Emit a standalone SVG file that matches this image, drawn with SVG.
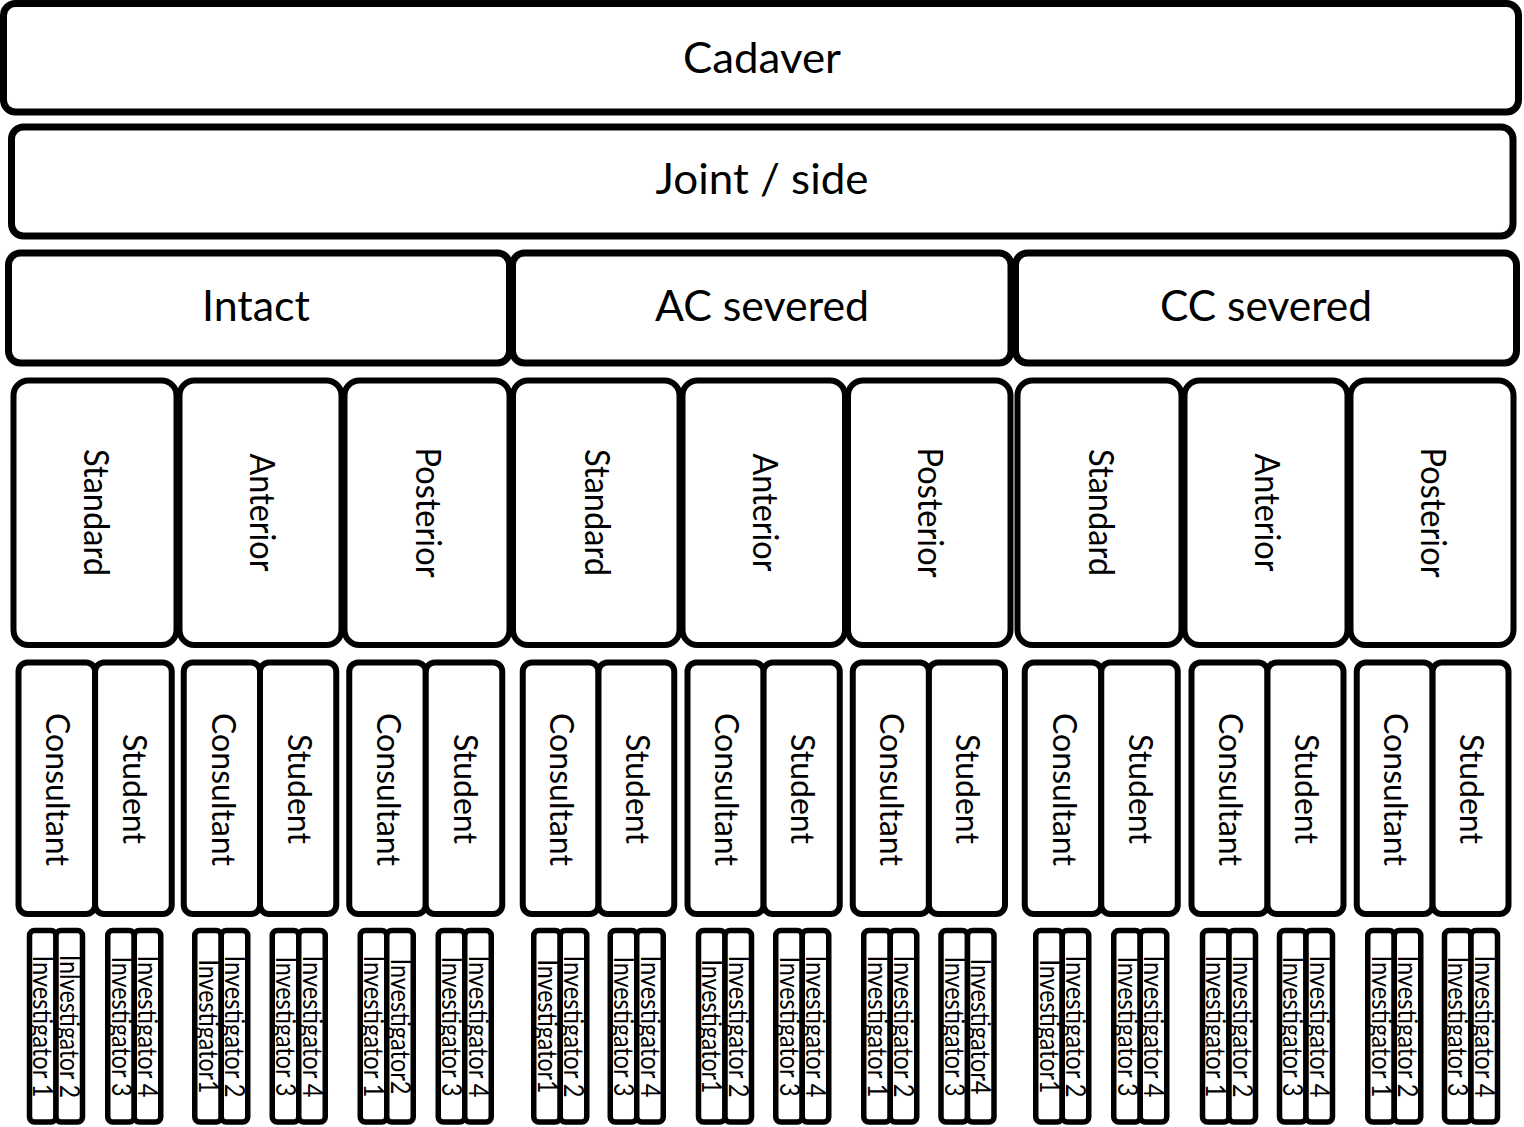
<svg xmlns="http://www.w3.org/2000/svg" width="1524" height="1127" viewBox="0 0 1524 1127">
<style>
.b{fill:#fff;stroke:#000}
.l1{stroke-width:7}
.l4{stroke-width:6}
.l5{stroke-width:6}
.l6{stroke-width:5.5}
.t{font-family:Lato,"Liberation Sans",sans-serif;fill:#000;text-anchor:middle}
.h{font-size:42px}
.v4{font-size:34px}
.v5{font-size:33px}
.v6{font-size:27px}
</style>
<rect width="1524" height="1127" fill="#fff"/>
<g id="connectors"></g>
<g id="cadaver"><rect class="b l1" x="3.5" y="3.5" width="1515" height="108.5" rx="12"/><text class="t h" x="762" y="73" textLength="158" lengthAdjust="spacingAndGlyphs">Cadaver</text></g>
<g id="joint"><rect class="b l1" x="11.5" y="127" width="1501.5" height="109" rx="12"/><text class="t h" x="762" y="194" textLength="213" lengthAdjust="spacingAndGlyphs">Joint / side</text></g>
<g id="intact"><rect class="b l1" x="8.5" y="253" width="501" height="110" rx="12"/><text class="t h" x="256" y="321" textLength="108" lengthAdjust="spacingAndGlyphs">Intact</text></g>
<g id="ac"><rect class="b l1" x="512.5" y="253" width="498.5" height="110" rx="12"/><text class="t h" x="762" y="320.5" textLength="214" lengthAdjust="spacingAndGlyphs">AC severed</text></g>
<g id="cc"><rect class="b l1" x="1015.5" y="253" width="501" height="110" rx="12"/><text class="t h" x="1266" y="320.5" textLength="212" lengthAdjust="spacingAndGlyphs">CC severed</text></g>

<g id="intact-standard"><rect class="b l4" x="13.5" y="380.5" width="163" height="264.5" rx="15"/><text class="t v4" transform="translate(84,512.5) rotate(90)" textLength="127" lengthAdjust="spacingAndGlyphs">Standard</text></g>
<g id="intact-anterior"><rect class="b l4" x="179.5" y="380.5" width="162" height="264.5" rx="15"/><text class="t v4" transform="translate(249.5,512.5) rotate(90)" textLength="118" lengthAdjust="spacingAndGlyphs">Anterior</text></g>
<g id="intact-posterior"><rect class="b l4" x="344.5" y="380.5" width="165" height="264.5" rx="15"/><text class="t v4" transform="translate(416,512.5) rotate(90)" textLength="130" lengthAdjust="spacingAndGlyphs">Posterior</text></g>
<g id="ac-standard"><rect class="b l4" x="513" y="380.5" width="166.5" height="264.5" rx="15"/><text class="t v4" transform="translate(585.25,512.5) rotate(90)" textLength="127" lengthAdjust="spacingAndGlyphs">Standard</text></g>
<g id="ac-anterior"><rect class="b l4" x="682.5" y="380.5" width="162.5" height="264.5" rx="15"/><text class="t v4" transform="translate(752.75,512.5) rotate(90)" textLength="118" lengthAdjust="spacingAndGlyphs">Anterior</text></g>
<g id="ac-posterior"><rect class="b l4" x="848" y="380.5" width="162.5" height="264.5" rx="15"/><text class="t v4" transform="translate(918.25,512.5) rotate(90)" textLength="130" lengthAdjust="spacingAndGlyphs">Posterior</text></g>
<g id="cc-standard"><rect class="b l4" x="1017.5" y="380.5" width="164" height="264.5" rx="15"/><text class="t v4" transform="translate(1088.5,512.5) rotate(90)" textLength="127" lengthAdjust="spacingAndGlyphs">Standard</text></g>
<g id="cc-anterior"><rect class="b l4" x="1184.5" y="380.5" width="163" height="264.5" rx="15"/><text class="t v4" transform="translate(1255,512.5) rotate(90)" textLength="118" lengthAdjust="spacingAndGlyphs">Anterior</text></g>
<g id="cc-posterior"><rect class="b l4" x="1350.5" y="380.5" width="163" height="264.5" rx="15"/><text class="t v4" transform="translate(1421,512.5) rotate(90)" textLength="130" lengthAdjust="spacingAndGlyphs">Posterior</text></g>

<g id="r5-1c"><rect class="b l5" x="18.5" y="662.5" width="76.6" height="251.5" rx="9"/><text class="t v5" transform="translate(46.3,789.5) rotate(90)" textLength="153" lengthAdjust="spacingAndGlyphs">Consultant</text></g>
<g id="r5-1s"><rect class="b l5" x="95.1" y="662.5" width="76.65" height="251.5" rx="9"/><text class="t v5" transform="translate(122.9,789) rotate(90)" textLength="110" lengthAdjust="spacingAndGlyphs">Student</text></g>
<g id="r5-2c"><rect class="b l5" x="183.75" y="662.5" width="76.25" height="251.5" rx="9"/><text class="t v5" transform="translate(211.6,789.5) rotate(90)" textLength="153" lengthAdjust="spacingAndGlyphs">Consultant</text></g>
<g id="r5-2s"><rect class="b l5" x="260" y="662.5" width="76.25" height="251.5" rx="9"/><text class="t v5" transform="translate(287.6,789) rotate(90)" textLength="110" lengthAdjust="spacingAndGlyphs">Student</text></g>
<g id="r5-3c"><rect class="b l5" x="349.25" y="662.5" width="76.5" height="251.5" rx="9"/><text class="t v5" transform="translate(377,789.5) rotate(90)" textLength="153" lengthAdjust="spacingAndGlyphs">Consultant</text></g>
<g id="r5-3s"><rect class="b l5" x="425.75" y="662.5" width="76.5" height="251.5" rx="9"/><text class="t v5" transform="translate(453.5,789) rotate(90)" textLength="110" lengthAdjust="spacingAndGlyphs">Student</text></g>
<g id="r5-4c"><rect class="b l5" x="522.75" y="662.5" width="75.75" height="251.5" rx="9"/><text class="t v5" transform="translate(550.1,789.5) rotate(90)" textLength="153" lengthAdjust="spacingAndGlyphs">Consultant</text></g>
<g id="r5-4s"><rect class="b l5" x="598.5" y="662.5" width="75.75" height="251.5" rx="9"/><text class="t v5" transform="translate(625.9,789) rotate(90)" textLength="110" lengthAdjust="spacingAndGlyphs">Student</text></g>
<g id="r5-5c"><rect class="b l5" x="687.5" y="662.5" width="76.1" height="251.5" rx="9"/><text class="t v5" transform="translate(715.05,789.5) rotate(90)" textLength="153" lengthAdjust="spacingAndGlyphs">Consultant</text></g>
<g id="r5-5s"><rect class="b l5" x="763.6" y="662.5" width="76.15" height="251.5" rx="9"/><text class="t v5" transform="translate(791.2,789) rotate(90)" textLength="110" lengthAdjust="spacingAndGlyphs">Student</text></g>
<g id="r5-6c"><rect class="b l5" x="852.75" y="662.5" width="76.15" height="251.5" rx="9"/><text class="t v5" transform="translate(880.3,789.5) rotate(90)" textLength="153" lengthAdjust="spacingAndGlyphs">Consultant</text></g>
<g id="r5-6s"><rect class="b l5" x="928.9" y="662.5" width="76.1" height="251.5" rx="9"/><text class="t v5" transform="translate(956.45,789) rotate(90)" textLength="110" lengthAdjust="spacingAndGlyphs">Student</text></g>
<g id="r5-7c"><rect class="b l5" x="1024.75" y="662.5" width="76.5" height="251.5" rx="9"/><text class="t v5" transform="translate(1052.5,789.5) rotate(90)" textLength="153" lengthAdjust="spacingAndGlyphs">Consultant</text></g>
<g id="r5-7s"><rect class="b l5" x="1101.25" y="662.5" width="76.5" height="251.5" rx="9"/><text class="t v5" transform="translate(1129,789) rotate(90)" textLength="110" lengthAdjust="spacingAndGlyphs">Student</text></g>
<g id="r5-8c"><rect class="b l5" x="1191.5" y="662.5" width="76" height="251.5" rx="9"/><text class="t v5" transform="translate(1219,789.5) rotate(90)" textLength="153" lengthAdjust="spacingAndGlyphs">Consultant</text></g>
<g id="r5-8s"><rect class="b l5" x="1267.5" y="662.5" width="76" height="251.5" rx="9"/><text class="t v5" transform="translate(1295,789) rotate(90)" textLength="110" lengthAdjust="spacingAndGlyphs">Student</text></g>
<g id="r5-9c"><rect class="b l5" x="1356.75" y="662.5" width="75.85" height="251.5" rx="9"/><text class="t v5" transform="translate(1384.2,789.5) rotate(90)" textLength="153" lengthAdjust="spacingAndGlyphs">Consultant</text></g>
<g id="r5-9s"><rect class="b l5" x="1432.6" y="662.5" width="75.9" height="251.5" rx="9"/><text class="t v5" transform="translate(1460.05,789) rotate(90)" textLength="110" lengthAdjust="spacingAndGlyphs">Student</text></g>

<g id="inv-1"><rect class="b l6" x="29.5" y="930.5" width="26.5" height="191.5" rx="5"/><rect class="b l6" x="56" y="930.5" width="26.5" height="191.5" rx="5"/><text class="t v6" transform="translate(33.25,1026.5) rotate(90)" textLength="142" lengthAdjust="spacingAndGlyphs">Investigator 1</text><text class="t v6" transform="translate(59.75,1026.5) rotate(90)" textLength="143" lengthAdjust="spacingAndGlyphs">Inlvestigator 2</text></g>
<g id="inv-2"><rect class="b l6" x="107.75" y="930.5" width="26.5" height="191.5" rx="5"/><rect class="b l6" x="134.25" y="930.5" width="26.5" height="191.5" rx="5"/><text class="t v6" transform="translate(111.5,1026.5) rotate(90)" textLength="140" lengthAdjust="spacingAndGlyphs">Investigator 3</text><text class="t v6" transform="translate(138,1026.5) rotate(90)" textLength="142" lengthAdjust="spacingAndGlyphs">Investigator 4</text></g>
<g id="inv-3"><rect class="b l6" x="194.75" y="930.5" width="26.5" height="191.5" rx="5"/><rect class="b l6" x="221.25" y="930.5" width="26.5" height="191.5" rx="5"/><text class="t v6" transform="translate(198.5,1026.5) rotate(90)" textLength="134" lengthAdjust="spacingAndGlyphs">Investigator1</text><text class="t v6" transform="translate(225,1026.5) rotate(90)" textLength="142" lengthAdjust="spacingAndGlyphs">Investigator 2</text></g>
<g id="inv-4"><rect class="b l6" x="272.25" y="930.5" width="26.5" height="191.5" rx="5"/><rect class="b l6" x="298.75" y="930.5" width="26.5" height="191.5" rx="5"/><text class="t v6" transform="translate(276,1026.5) rotate(90)" textLength="140" lengthAdjust="spacingAndGlyphs">Investigator 3</text><text class="t v6" transform="translate(302.5,1026.5) rotate(90)" textLength="142" lengthAdjust="spacingAndGlyphs">Investigator 4</text></g>
<g id="inv-5"><rect class="b l6" x="360.25" y="930.5" width="26.5" height="191.5" rx="5"/><rect class="b l6" x="386.75" y="930.5" width="26.5" height="191.5" rx="5"/><text class="t v6" transform="translate(364,1026.5) rotate(90)" textLength="142" lengthAdjust="spacingAndGlyphs">Investigator 1</text><text class="t v6" transform="translate(390.5,1026.5) rotate(90)" textLength="136" lengthAdjust="spacingAndGlyphs">Investigator2</text></g>
<g id="inv-6"><rect class="b l6" x="438.25" y="930.5" width="26.5" height="191.5" rx="5"/><rect class="b l6" x="464.75" y="930.5" width="26.5" height="191.5" rx="5"/><text class="t v6" transform="translate(442,1026.5) rotate(90)" textLength="140" lengthAdjust="spacingAndGlyphs">Investigator 3</text><text class="t v6" transform="translate(468.5,1026.5) rotate(90)" textLength="142" lengthAdjust="spacingAndGlyphs">Investigator 4</text></g>
<g id="inv-7"><rect class="b l6" x="533.75" y="930.5" width="26.5" height="191.5" rx="5"/><rect class="b l6" x="560.25" y="930.5" width="26.5" height="191.5" rx="5"/><text class="t v6" transform="translate(537.5,1026.5) rotate(90)" textLength="134" lengthAdjust="spacingAndGlyphs">Investigator1</text><text class="t v6" transform="translate(564,1026.5) rotate(90)" textLength="142" lengthAdjust="spacingAndGlyphs">Investigator 2</text></g>
<g id="inv-8"><rect class="b l6" x="610.25" y="930.5" width="26.5" height="191.5" rx="5"/><rect class="b l6" x="636.75" y="930.5" width="26.5" height="191.5" rx="5"/><text class="t v6" transform="translate(614,1026.5) rotate(90)" textLength="140" lengthAdjust="spacingAndGlyphs">Investigator 3</text><text class="t v6" transform="translate(640.5,1026.5) rotate(90)" textLength="142" lengthAdjust="spacingAndGlyphs">Investigator 4</text></g>
<g id="inv-9"><rect class="b l6" x="698.5" y="930.5" width="26.5" height="191.5" rx="5"/><rect class="b l6" x="725" y="930.5" width="26.5" height="191.5" rx="5"/><text class="t v6" transform="translate(702.25,1026.5) rotate(90)" textLength="134" lengthAdjust="spacingAndGlyphs">Investigator1</text><text class="t v6" transform="translate(728.75,1026.5) rotate(90)" textLength="142" lengthAdjust="spacingAndGlyphs">Investigator 2</text></g>
<g id="inv-10"><rect class="b l6" x="775.75" y="930.5" width="26.5" height="191.5" rx="5"/><rect class="b l6" x="802.25" y="930.5" width="26.5" height="191.5" rx="5"/><text class="t v6" transform="translate(779.5,1026.5) rotate(90)" textLength="140" lengthAdjust="spacingAndGlyphs">Investigator 3</text><text class="t v6" transform="translate(806,1026.5) rotate(90)" textLength="142" lengthAdjust="spacingAndGlyphs">Investigator 4</text></g>
<g id="inv-11"><rect class="b l6" x="863.75" y="930.5" width="26.5" height="191.5" rx="5"/><rect class="b l6" x="890.25" y="930.5" width="26.5" height="191.5" rx="5"/><text class="t v6" transform="translate(867.5,1026.5) rotate(90)" textLength="142" lengthAdjust="spacingAndGlyphs">Investigator 1</text><text class="t v6" transform="translate(894,1026.5) rotate(90)" textLength="142" lengthAdjust="spacingAndGlyphs">Investigator 2</text></g>
<g id="inv-12"><rect class="b l6" x="941" y="930.5" width="26.5" height="191.5" rx="5"/><rect class="b l6" x="967.5" y="930.5" width="26.5" height="191.5" rx="5"/><text class="t v6" transform="translate(944.75,1026.5) rotate(90)" textLength="140" lengthAdjust="spacingAndGlyphs">Investigator 3</text><text class="t v6" transform="translate(971.25,1026.5) rotate(90)" textLength="136" lengthAdjust="spacingAndGlyphs">Investigator4</text></g>
<g id="inv-13"><rect class="b l6" x="1035.75" y="930.5" width="26.5" height="191.5" rx="5"/><rect class="b l6" x="1062.25" y="930.5" width="26.5" height="191.5" rx="5"/><text class="t v6" transform="translate(1039.5,1026.5) rotate(90)" textLength="134" lengthAdjust="spacingAndGlyphs">Investigator1</text><text class="t v6" transform="translate(1066,1026.5) rotate(90)" textLength="142" lengthAdjust="spacingAndGlyphs">Investigator 2</text></g>
<g id="inv-14"><rect class="b l6" x="1113.75" y="930.5" width="26.5" height="191.5" rx="5"/><rect class="b l6" x="1140.25" y="930.5" width="26.5" height="191.5" rx="5"/><text class="t v6" transform="translate(1117.5,1026.5) rotate(90)" textLength="140" lengthAdjust="spacingAndGlyphs">Investigator 3</text><text class="t v6" transform="translate(1144,1026.5) rotate(90)" textLength="142" lengthAdjust="spacingAndGlyphs">Investigator 4</text></g>
<g id="inv-15"><rect class="b l6" x="1202.5" y="930.5" width="26.5" height="191.5" rx="5"/><rect class="b l6" x="1229" y="930.5" width="26.5" height="191.5" rx="5"/><text class="t v6" transform="translate(1206.25,1026.5) rotate(90)" textLength="142" lengthAdjust="spacingAndGlyphs">Investigator 1</text><text class="t v6" transform="translate(1232.75,1026.5) rotate(90)" textLength="142" lengthAdjust="spacingAndGlyphs">Investigator 2</text></g>
<g id="inv-16"><rect class="b l6" x="1279.5" y="930.5" width="26.5" height="191.5" rx="5"/><rect class="b l6" x="1306" y="930.5" width="26.5" height="191.5" rx="5"/><text class="t v6" transform="translate(1283.25,1026.5) rotate(90)" textLength="140" lengthAdjust="spacingAndGlyphs">Investigator 3</text><text class="t v6" transform="translate(1309.75,1026.5) rotate(90)" textLength="142" lengthAdjust="spacingAndGlyphs">Investigator 4</text></g>
<g id="inv-17"><rect class="b l6" x="1367.75" y="930.5" width="26.5" height="191.5" rx="5"/><rect class="b l6" x="1394.25" y="930.5" width="26.5" height="191.5" rx="5"/><text class="t v6" transform="translate(1371.5,1026.5) rotate(90)" textLength="142" lengthAdjust="spacingAndGlyphs">Investigator 1</text><text class="t v6" transform="translate(1398,1026.5) rotate(90)" textLength="142" lengthAdjust="spacingAndGlyphs">Investigator 2</text></g>
<g id="inv-18"><rect class="b l6" x="1444.5" y="930.5" width="26.5" height="191.5" rx="5"/><rect class="b l6" x="1471" y="930.5" width="26.5" height="191.5" rx="5"/><text class="t v6" transform="translate(1448.25,1026.5) rotate(90)" textLength="140" lengthAdjust="spacingAndGlyphs">Investigator 3</text><text class="t v6" transform="translate(1474.75,1026.5) rotate(90)" textLength="142" lengthAdjust="spacingAndGlyphs">Investigator 4</text></g>
</svg>
